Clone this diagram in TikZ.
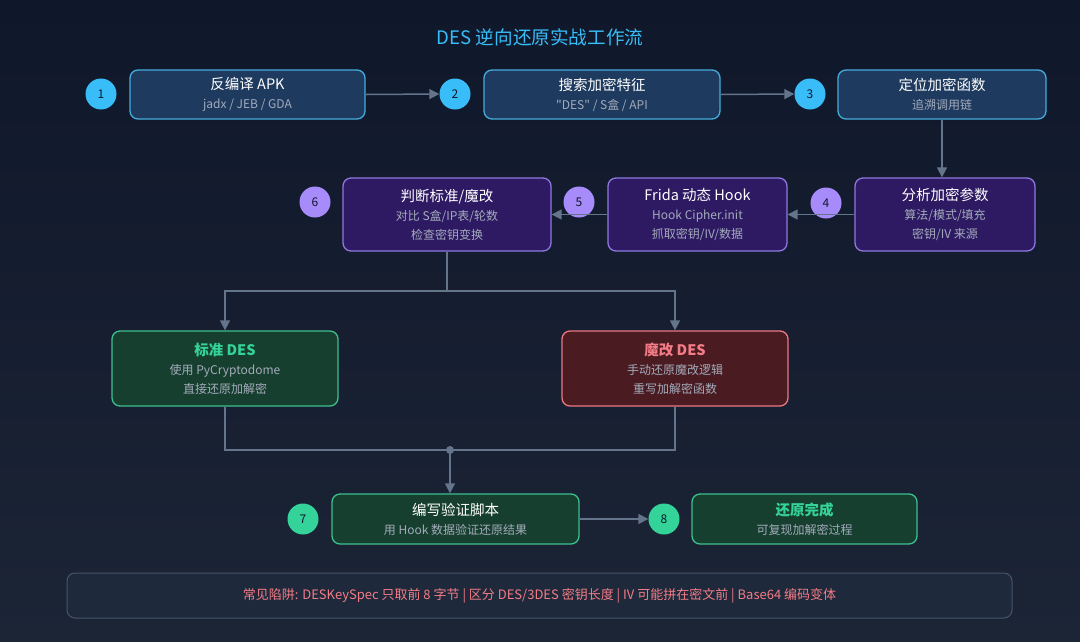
\documentclass[tikz,border=0pt]{standalone}
\usepackage{fontspec}
\setmainfont{Noto Sans CJK SC}
\newfontfamily\plainfont{Noto Sans CJK SC}
\usetikzlibrary{arrows.meta}
\definecolor{bgtop}{HTML}{0F172A}
\definecolor{bgbot}{HTML}{1C2536}
\definecolor{titleblue}{HTML}{38BDF8}
\definecolor{bluefill}{HTML}{1E3A5F}
\definecolor{blueedge}{HTML}{45ACDC}
\definecolor{purplefill}{HTML}{2E1A63}
\definecolor{purpleedge}{HTML}{8E78E0}
\definecolor{purplenum}{HTML}{A78BFA}
\definecolor{greenfill}{HTML}{173F2F}
\definecolor{greenedge}{HTML}{3CC08F}
\definecolor{greennum}{HTML}{34D399}
\definecolor{redfill}{HTML}{4A1C22}
\definecolor{rededge}{HTML}{EE7682}
\definecolor{redtext}{HTML}{F47C86}
\definecolor{subgray}{HTML}{A3ABBB}
\definecolor{linkgray}{HTML}{64748B}
\definecolor{numtext}{HTML}{0F172A}
\definecolor{bannerfill}{HTML}{1E293B}
\definecolor{banneredge}{HTML}{475569}
\newcommand{\subtxt}[1]{{\color{subgray}\fontsize{12}{19}\selectfont #1}}

\begin{document}
\begin{tikzpicture}[x=1pt, y=-1pt,
    box/.style={rectangle, rounded corners=8pt, line width=1.3pt, align=center,
        inner sep=0pt, text=white, font=\fontsize{14.5}{19}\selectfont},
    bluebox/.style={box, draw=blueedge, fill=bluefill},
    purplebox/.style={box, draw=purpleedge, fill=purplefill},
    greenbox/.style={box, draw=greenedge, fill=greenfill},
    redbox/.style={box, draw=rededge, fill=redfill},
    num/.style={circle, minimum size=31pt, inner sep=0pt, text=numtext,
        font=\fontsize{12}{12}\selectfont},
    link/.style={draw=linkgray, line width=1.5pt},
    tip/.style={link, -{Triangle[length=10pt,width=10pt]}}
]
    % Background
    \useasboundingbox (0,0) rectangle (1080,641);
    \shade[top color=bgtop, bottom color=bgbot] (0,0) rectangle (1080,641);
    % Title
    \node[text=titleblue, font=\fontsize{18.6}{19}\selectfont] (title) at (540, 37) {DES 逆向还原实战工作流};

    % Row 1: static analysis
    \node[bluebox, minimum width=235pt, minimum height=49pt] (decomp) at (247.5, 94.5)
        {反编译 APK\\\subtxt{jadx / JEB / GDA}};
    \node[bluebox, minimum width=236pt, minimum height=49pt] (search) at (602, 94.5)
        {搜索加密特征\\\subtxt{{\plainfont"DES"} / S盒 / API}};
    \node[bluebox, minimum width=208pt, minimum height=49pt] (locate) at (942, 94.5)
        {定位加密函数\\\subtxt{追溯调用链}};
    \node[num, fill=titleblue] (n1) at (101, 94) {1};
    \node[num, fill=titleblue] (n2) at (455, 94) {2};
    \node[num, fill=titleblue] (n3) at (810, 94) {3};

    % Row 2: dynamic analysis
    \node[purplebox, minimum width=180pt, minimum height=73pt] (params) at (945, 214.5)
        {分析加密参数\\\subtxt{算法/模式/填充}\\\subtxt{密钥/IV 来源}};
    \node[purplebox, minimum width=179pt, minimum height=73pt] (frida) at (697.5, 214.5)
        {Frida 动态 Hook\\\subtxt{Hook Cipher.init}\\\subtxt{抓取密钥/IV/数据}};
    \node[purplebox, minimum width=208pt, minimum height=73pt] (judge) at (447, 214.5)
        {判断标准/魔改\\\subtxt{对比 S盒/IP表/轮数}\\\subtxt{检查密钥变换}};
    \node[num, fill=purplenum] (n4) at (826, 203) {4};
    \node[num, fill=purplenum] (n5) at (579, 202) {5};
    \node[num, fill=purplenum] (n6) at (315, 202) {6};

    % Row 3: two branches
    \node[greenbox, minimum width=226pt, minimum height=75pt] (std) at (225, 368.5)
        {{\color{greennum}\bfseries 标准 DES}\\\subtxt{使用 PyCryptodome}\\\subtxt{直接还原加解密}};
    \node[redbox, minimum width=226pt, minimum height=75pt] (mod) at (675, 368.5)
        {{\color{redtext}\bfseries 魔改 DES}\\\subtxt{手动还原魔改逻辑}\\\subtxt{重写加解密函数}};

    % Row 4: verify
    \node[greenbox, minimum width=247pt, minimum height=50pt] (script) at (455.5, 519)
        {编写验证脚本\\\subtxt{用 Hook 数据验证还原结果}};
    \node[greenbox, minimum width=225pt, minimum height=50pt] (done) at (804.5, 519)
        {{\color{greennum}\bfseries 还原完成}\\\subtxt{可复现加解密过程}};
    \node[num, fill=greennum] (n7) at (303, 519) {7};
    \node[num, fill=greennum] (n8) at (664, 519) {8};

    % Connectors
    \draw[tip] (decomp.east) -- (n2.west);
    \draw[tip] (search.east) -- (n3.west);
    \draw[tip] (locate.south) -- (locate.south |- params.north);
    \draw[tip] (params.west) -- (frida.east);
    \draw[tip] (frida.west) -- (judge.east);
    \coordinate (split) at (447, 291);
    \coordinate (merge) at (450, 450);
    \draw[link] (judge.south) -- (split);
    \draw[tip] (split) -| (std.north);
    \draw[tip] (split) -| (mod.north);
    \draw[link] (std.south) |- (merge);
    \draw[link] (mod.south) |- (merge);
    \draw[tip] (merge) -- (merge |- script.north);
    \fill[linkgray] (merge) circle (4pt);
    \draw[tip] (script.east) -- (n8.west);

    % Pitfalls
    \node[rectangle, rounded corners=8pt, draw=banneredge, fill=bannerfill, line width=1pt,
        minimum width=945pt, minimum height=45pt, text=redtext,
        font=\fontsize{13}{14}\selectfont] (pitfall) at (539.5, 595.5)
        {常见陷阱: DESKeySpec 只取前 8 字节 | 区分 DES/3DES 密钥长度 | IV 可能拼在密文前 | Base64 编码变体};
\end{tikzpicture}
\end{document}
